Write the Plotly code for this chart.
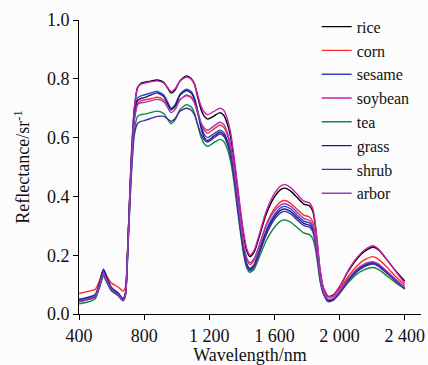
import plotly.graph_objects as go

wavelength = [400, 450, 500, 525, 550, 575, 600, 640, 670, 685,
              700, 720, 740, 760, 780, 800, 840, 880, 920, 945,
              965, 990, 1020, 1060, 1090, 1110, 1130, 1150, 1170, 1190,
              1225, 1265, 1290, 1310, 1330, 1350, 1370, 1390, 1410, 1430,
              1450, 1475, 1500, 1550, 1600, 1640, 1665, 1700, 1740, 1780,
              1815, 1835, 1850, 1865, 1880, 1900, 1930, 1960, 2000, 2050,
              2100, 2150, 2205, 2240, 2290, 2340, 2400]

rice = [0.045, 0.050, 0.062, 0.095, 0.140, 0.112, 0.085, 0.068, 0.050, 0.070,
        0.240, 0.520, 0.700, 0.770, 0.785, 0.788, 0.792, 0.796, 0.788, 0.768,
        0.752, 0.762, 0.793, 0.810, 0.800, 0.780, 0.735, 0.695, 0.672, 0.663,
        0.672, 0.685, 0.675, 0.648, 0.605, 0.530, 0.440, 0.350, 0.270, 0.215,
        0.195, 0.210, 0.250, 0.340, 0.398, 0.424, 0.428, 0.418, 0.396, 0.374,
        0.368, 0.350, 0.305, 0.230, 0.150, 0.090, 0.060, 0.064, 0.092, 0.142,
        0.183, 0.212, 0.228, 0.218, 0.185, 0.150, 0.112]

corn = [0.070, 0.076, 0.084, 0.112, 0.148, 0.125, 0.105, 0.092, 0.078, 0.090,
        0.240, 0.500, 0.660, 0.715, 0.725, 0.728, 0.732, 0.737, 0.728, 0.710,
        0.695, 0.705, 0.730, 0.742, 0.735, 0.716, 0.680, 0.645, 0.624, 0.615,
        0.628, 0.643, 0.634, 0.610, 0.570, 0.500, 0.410, 0.320, 0.240, 0.186,
        0.168, 0.182, 0.220, 0.305, 0.358, 0.382, 0.386, 0.376, 0.356, 0.336,
        0.330, 0.314, 0.275, 0.210, 0.138, 0.085, 0.058, 0.060, 0.085, 0.125,
        0.160, 0.183, 0.195, 0.186, 0.160, 0.130, 0.098]

sesame = [0.050, 0.056, 0.066, 0.105, 0.153, 0.120, 0.090, 0.072, 0.052, 0.070,
          0.235, 0.505, 0.680, 0.735, 0.742, 0.745, 0.752, 0.757, 0.745, 0.720,
          0.700, 0.712, 0.748, 0.765, 0.756, 0.733, 0.690, 0.640, 0.610, 0.600,
          0.612, 0.625, 0.617, 0.592, 0.552, 0.485, 0.395, 0.305, 0.225, 0.172,
          0.155, 0.168, 0.205, 0.285, 0.338, 0.362, 0.366, 0.357, 0.336, 0.316,
          0.310, 0.295, 0.258, 0.196, 0.126, 0.074, 0.046, 0.050, 0.075, 0.115,
          0.146, 0.166, 0.175, 0.167, 0.143, 0.118, 0.090]

soybean = [0.042, 0.048, 0.058, 0.090, 0.135, 0.108, 0.082, 0.065, 0.048, 0.068,
           0.235, 0.515, 0.700, 0.772, 0.782, 0.785, 0.790, 0.793, 0.786, 0.770,
           0.756, 0.766, 0.792, 0.806, 0.798, 0.782, 0.742, 0.706, 0.686, 0.678,
           0.688, 0.700, 0.692, 0.665, 0.620, 0.545, 0.455, 0.362, 0.280, 0.222,
           0.200, 0.216, 0.258, 0.350, 0.410, 0.436, 0.440, 0.430, 0.407, 0.384,
           0.378, 0.360, 0.312, 0.235, 0.152, 0.090, 0.058, 0.062, 0.092, 0.145,
           0.187, 0.216, 0.232, 0.220, 0.185, 0.148, 0.105]

tea = [0.035, 0.040, 0.052, 0.088, 0.128, 0.102, 0.078, 0.062, 0.045, 0.062,
       0.215, 0.465, 0.625, 0.672, 0.678, 0.680, 0.685, 0.690, 0.682, 0.662,
       0.647, 0.660, 0.695, 0.712, 0.704, 0.682, 0.640, 0.600, 0.578, 0.570,
       0.582, 0.594, 0.586, 0.562, 0.522, 0.455, 0.368, 0.282, 0.205, 0.157,
       0.142, 0.152, 0.184, 0.250, 0.295, 0.317, 0.320, 0.312, 0.294, 0.276,
       0.270, 0.257, 0.226, 0.172, 0.112, 0.070, 0.048, 0.050, 0.070, 0.105,
       0.133, 0.150, 0.158, 0.151, 0.130, 0.108, 0.085]

grass = [0.048, 0.054, 0.064, 0.102, 0.150, 0.118, 0.088, 0.070, 0.050, 0.068,
         0.232, 0.500, 0.672, 0.726, 0.733, 0.736, 0.745, 0.752, 0.740, 0.715,
         0.695, 0.707, 0.744, 0.760, 0.751, 0.728, 0.684, 0.632, 0.600, 0.590,
         0.604, 0.618, 0.610, 0.585, 0.545, 0.478, 0.388, 0.300, 0.220, 0.168,
         0.152, 0.164, 0.200, 0.278, 0.330, 0.353, 0.357, 0.348, 0.328, 0.308,
         0.302, 0.288, 0.252, 0.192, 0.124, 0.073, 0.045, 0.049, 0.073, 0.113,
         0.144, 0.163, 0.172, 0.164, 0.141, 0.116, 0.088]

shrub = [0.043, 0.049, 0.059, 0.092, 0.135, 0.107, 0.081, 0.064, 0.046, 0.063,
         0.215, 0.460, 0.610, 0.648, 0.655, 0.658, 0.665, 0.672, 0.672, 0.663,
         0.655, 0.665, 0.690, 0.700, 0.693, 0.676, 0.642, 0.610, 0.592, 0.585,
         0.598, 0.612, 0.604, 0.580, 0.540, 0.472, 0.382, 0.294, 0.214, 0.164,
         0.148, 0.160, 0.195, 0.270, 0.322, 0.345, 0.349, 0.340, 0.320, 0.301,
         0.295, 0.281, 0.246, 0.188, 0.121, 0.071, 0.042, 0.046, 0.070, 0.110,
         0.140, 0.160, 0.170, 0.162, 0.139, 0.114, 0.085]

arbor = [0.045, 0.051, 0.061, 0.095, 0.140, 0.110, 0.084, 0.066, 0.047, 0.064,
         0.225, 0.490, 0.660, 0.712, 0.718, 0.720, 0.725, 0.730, 0.722, 0.702,
         0.685, 0.695, 0.728, 0.745, 0.738, 0.718, 0.684, 0.650, 0.632, 0.625,
         0.638, 0.652, 0.644, 0.618, 0.576, 0.505, 0.415, 0.322, 0.242, 0.190,
         0.175, 0.188, 0.223, 0.300, 0.350, 0.371, 0.375, 0.366, 0.346, 0.325,
         0.318, 0.302, 0.264, 0.200, 0.130, 0.078, 0.050, 0.053, 0.078, 0.118,
         0.150, 0.170, 0.178, 0.170, 0.146, 0.120, 0.090]

series_names = ["rice", "corn", "sesame", "soybean", "tea", "grass", "shrub", "arbor"]
series_values = [rice, corn, sesame, soybean, tea, grass, shrub, arbor]
series_colors = ["#000000", "#ff2a2a", "#3344c4", "#cc1fa8", "#0a8a40", "#1c1c84", "#4a2aa0", "#9a3cbc"]

x_tickvals = [400, 800, 1200, 1600, 2000, 2400]
x_ticktext = ["400", "800", "1 200", "1 600", "2 000", "2 400"]
y_tickvals = [0.0, 0.2, 0.4, 0.6, 0.8, 1.0]

fig = go.Figure()
for name, vals, col in zip(series_names, series_values, series_colors):
    fig.add_trace(go.Scatter(x=wavelength, y=vals, name=name, mode="lines",
                             line=dict(color=col, width=1.4, shape="spline", smoothing=0.6)))

font_family = "Liberation Serif, Times New Roman, serif"
fig.update_layout(
    width=428, height=365,
    margin=dict(l=79, r=7, t=20, b=51, autoexpand=False),
    paper_bgcolor="#fcfcfc", plot_bgcolor="#fcfcfc",
    font=dict(family=font_family, size=18, color="#111111"),
    legend=dict(x=0.695, y=1.035, xanchor="left", yanchor="top",
                font=dict(family=font_family, size=16, color="#111111"),
                bgcolor="rgba(0,0,0,0)", tracegroupgap=0, maxheight=340),
    showlegend=True,
)
fig.update_xaxes(range=[400, 2500], tickvals=x_tickvals, ticktext=x_ticktext,
                 showline=True, linecolor="black", linewidth=1, mirror=False,
                 ticks="outside", ticklen=5, tickwidth=1, tickcolor="black",
                 showgrid=False, zeroline=False, automargin=False,
                 title=dict(text="Wavelength/nm", standoff=9, font=dict(size=18)),
                 tickfont=dict(size=18))
fig.update_yaxes(range=[0, 1.0], tickvals=y_tickvals, tickformat=".1f",
                 showline=True, linecolor="black", linewidth=1, mirror=False,
                 ticks="outside", ticklen=5, tickwidth=1, tickcolor="black",
                 showgrid=False, zeroline=False, automargin=False,
                 title=dict(text="Reflectance/sr<sup>-1</sup>", standoff=12, font=dict(size=18)),
                 tickfont=dict(size=18))

fig.write_html("out.html", config={"displayModeBar": False},
               post_script="document.body.style.margin='0';document.body.style.overflow='hidden';")
